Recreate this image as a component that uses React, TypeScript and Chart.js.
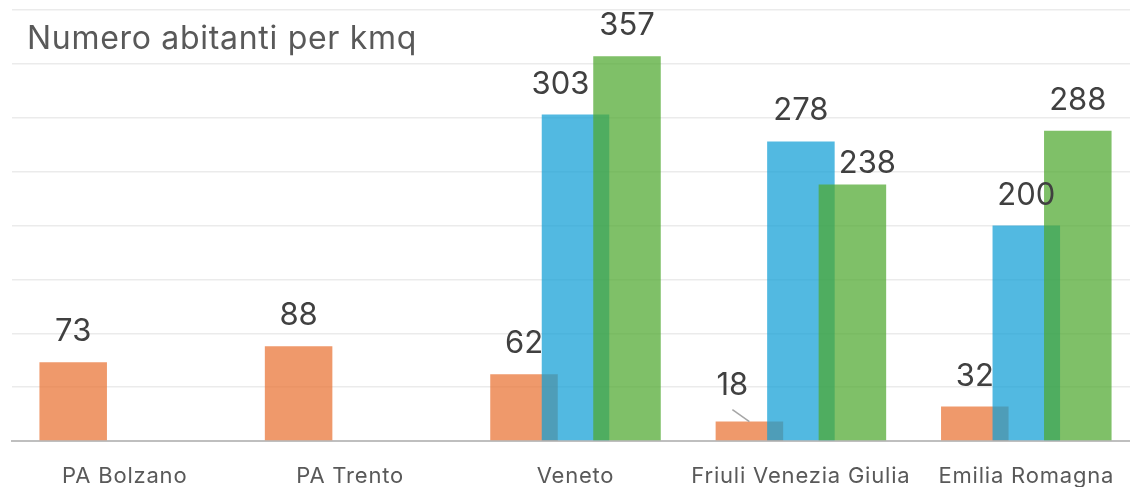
import React, { useEffect, useRef } from 'react';
import { Chart, registerables } from 'chart.js';

Chart.register(...registerables);

// ---- Data ----
const chartTitle = 'Numero abitanti per kmq';
const categories = ['PA Bolzano', 'PA Trento', 'Veneto', 'Friuli Venezia Giulia', 'Emilia Romagna'];
const seriesOrange: (number | null)[] = [73, 88, 62, 18, 32];
const seriesBlue: (number | null)[] = [null, null, 303, 278, 200];
const seriesGreen: (number | null)[] = [null, null, 357, 238, 288];
const yMin = 0;
const yMax = 400;
const yStep = 50;

// label nudges (Excel auto-placement), keyed "dataset:index"
const labelNudges: Record<string, { dx: number; dy: number; leader?: boolean }> = {
  '1:2': { dx: -15, dy: 0 },
  '2:3': { dx: 15, dy: 9 },
  '0:3': { dx: -17, dy: -6, leader: true },
};

const FONT = 'Inter, Roboto, sans-serif';

const orderedDrawPlugin = {
  id: 'orderedDraw',
  beforeLayout(chart: any) {
    chart.ctx.letterSpacing = '0.8px';
  },
  beforeDraw(chart: any) {
    chart.ctx.letterSpacing = '0.8px';
  },
  beforeDatasetDraw() {
    return false;
  },
  afterDatasetsDraw(chart: any) {
    const ctx = chart.ctx;
    const area = chart.chartArea;
    ctx.save();
    ctx.beginPath();
    ctx.rect(area.left, area.top - 20, area.right - area.left, area.bottom - area.top + 20);
    ctx.clip();
    for (let i = 0; i < chart.data.datasets.length; i++) {
      const meta = chart.getDatasetMeta(i);
      if (meta.visible !== false) meta.controller.draw();
    }
    ctx.restore();

    // data labels
    ctx.save();
    ctx.letterSpacing = '0px';
    ctx.font = `31px ${FONT}`;
    ctx.fillStyle = '#404040';
    ctx.textAlign = 'center';
    ctx.textBaseline = 'alphabetic';
    chart.data.datasets.forEach((ds: any, di: number) => {
      const meta = chart.getDatasetMeta(di);
      meta.data.forEach((el: any, idx: number) => {
        const v = ds.data[idx];
        if (v === null || v === undefined) return;
        const n = labelNudges[`${di}:${idx}`] || { dx: 0, dy: 0 };
        const x = el.x + n.dx;
        const y = el.y - 21 + n.dy;
        ctx.fillText(String(v), x, y);
        if (n.leader) {
          ctx.save();
          ctx.strokeStyle = '#A6A6A6';
          ctx.lineWidth = 1.5;
          ctx.beginPath();
          ctx.moveTo(x, y + 15);
          ctx.lineTo(el.x, el.y);
          ctx.stroke();
          ctx.restore();
        }
      });
    });
    ctx.restore();

    // title
    ctx.save();
    ctx.letterSpacing = '0.7px';
    ctx.font = `32px ${FONT}`;
    ctx.fillStyle = '#595959';
    ctx.textAlign = 'left';
    ctx.textBaseline = 'alphabetic';
    ctx.fillText(chartTitle, 27, 49);
    ctx.restore();
  },
};

export default function App() {
  const canvasRef = useRef<HTMLCanvasElement | null>(null);

  useEffect(() => {
    if (!canvasRef.current) return;
    const chart = new Chart(canvasRef.current, {
      type: 'bar',
      data: {
        labels: categories,
        datasets: [
          {
            label: 'A',
            data: seriesOrange,
            backgroundColor: 'rgba(233,113,50,0.72)',
            borderWidth: 0,
            categoryPercentage: 0.6855,
            barPercentage: 1.311,
          },
          {
            label: 'B',
            data: seriesBlue,
            backgroundColor: 'rgba(15,158,213,0.72)',
            borderWidth: 0,
            categoryPercentage: 0.6855,
            barPercentage: 1.311,
          },
          {
            label: 'C',
            data: seriesGreen,
            backgroundColor: 'rgba(78,167,46,0.72)',
            borderWidth: 0,
            categoryPercentage: 0.6855,
            barPercentage: 1.311,
          },
        ] as any,
      },
      options: {
        responsive: false,
        animation: false,
        devicePixelRatio: 1,
        layout: { padding: { left: 12, right: 3, top: 10, bottom: 0 } },
        plugins: {
          legend: { display: false },
          tooltip: { enabled: false },
          title: { display: false },
        },
        scales: {
          x: {
            grid: { display: true, color: 'rgba(0,0,0,0)', drawTicks: false },
            border: { display: true, color: '#BFBFBF', width: 2 },
            ticks: {
              color: '#595959',
              font: { family: FONT, size: 22, lineHeight: 1 },
              padding: 24,
              maxRotation: 0,
              autoSkip: false,
            },
            afterFit: (scale: any) => {
              scale.height = 46;
            },
          },
          y: {
            min: yMin,
            max: yMax,
            ticks: { display: false, stepSize: yStep },
            grid: { color: '#EBEBEB', lineWidth: 1.5, drawTicks: false },
            border: { display: false },
          },
        },
      },
      plugins: [orderedDrawPlugin as any],
    });
    return () => chart.destroy();
  }, []);

  return (
    <div
      style={{
        position: 'absolute',
        left: 0,
        top: 0,
        width: 1130,
        height: 487,
        overflow: 'hidden',
        background: '#fff',
      }}
    >
      <canvas ref={canvasRef} width={1142} height={487} style={{ display: 'block' }} />
    </div>
  );
}
